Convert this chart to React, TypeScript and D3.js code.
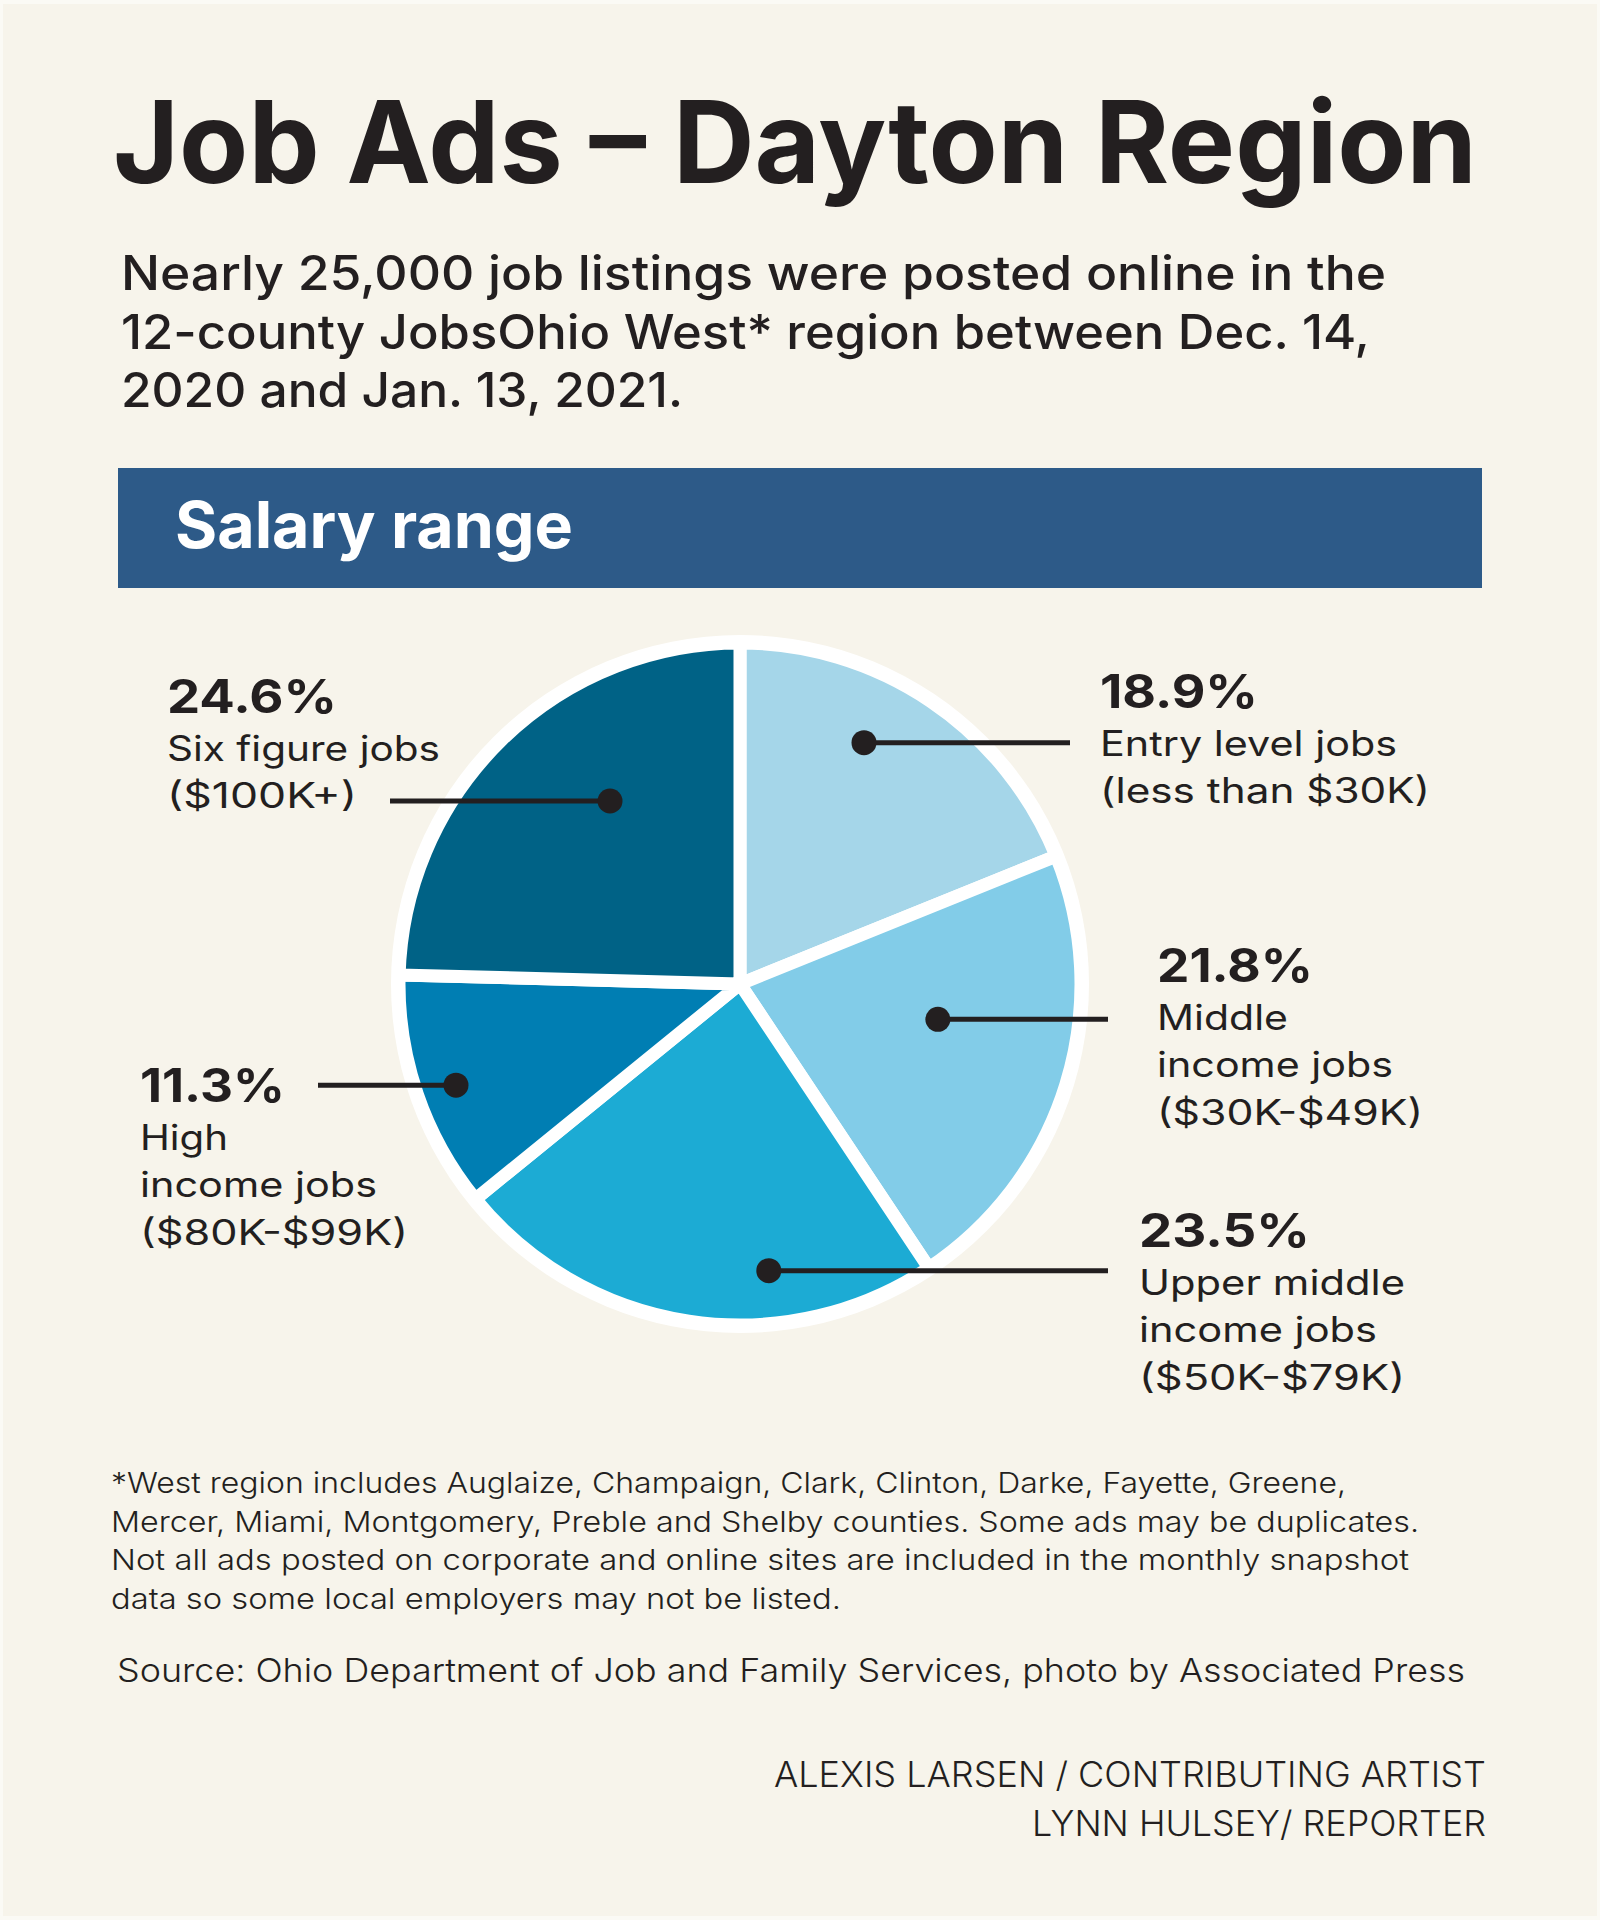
import React from "react";
import * as d3 from "d3";

// ---------- data ----------
const categories = [
  "Entry level jobs",
  "Middle income jobs",
  "Upper middle income jobs",
  "High income jobs",
  "Six figure jobs",
];
const shares = [18.9, 21.8, 23.5, 11.3, 24.6];
const sliceColors = ["#a5d6e9", "#82cce8", "#1cabd4", "#007eb3", "#006286"];
const pctLabels = ["18.9%", "21.8%", "23.5%", "11.3%", "24.6%"];
const descLines = [
  ["Entry level jobs", "(less than $30K)"],
  ["Middle", "income jobs", "($30K-$49K)"],
  ["Upper middle", "income jobs", "($50K-$79K)"],
  ["High", "income jobs", "($80K-$99K)"],
  ["Six figure jobs", "($100K+)"],
];
const titleText = "Job Ads \u2013 Dayton Region";
const subtitleLines = [
  "Nearly 25,000 job listings were posted online in the",
  "12-county JobsOhio West* region between Dec. 14,",
  "2020 and Jan. 13, 2021.",
];
const bannerText = "Salary range";
const footnoteLines = [
  "*West region includes Auglaize, Champaign, Clark, Clinton, Darke, Fayette, Greene,",
  "Mercer, Miami, Montgomery, Preble and Shelby counties. Some ads may be duplicates.",
  "Not all ads posted on corporate and online sites are included in the monthly snapshot",
  "data so some local employers may not be listed.",
];
const sourceText = "Source: Ohio Department of Job and Family Services, photo by Associated Press";
const creditLines = ["ALEXIS LARSEN / CONTRIBUTING ARTIST", "LYNN HULSEY/ REPORTER"];

// ---------- layout ----------
const W = 1600;
const H = 1920;
const FONT = "Inter, 'Noto Sans', sans-serif";
const INK = "#231f20";
const BG = "#f7f4eb";
const cx = 740;
const cy = 984;
const outerR = 341;
const diskR = 349;

// annotation layout per slice: where the dot sits inside the slice, where the leader ends, label block
const dotAngleFrac = [0.4, 0.41, 0.33, 0.48, 0.6];
const dotRadiusFrac = [0.81, 0.6, 0.86, 0.9, 0.67];
const leaderEndX = [1070, 1108, 1108, 318, 390];
const labelX = [1100, 1157, 1139, 140, 167];
const labelY = [708, 982, 1247, 1102, 713];
const pctWidths = [158, 156, 171, 145, 170];
const descWidths = [
  [297, 330],
  [131, 236, 266],
  [266, 238, 266],
  [88, 237, 268],
  [273, 190],
];

export default function App() {
  const pie = d3
    .pie<number>()
    .sort(null)
    .value((d) => d)
    .startAngle(0)
    .endAngle(2 * Math.PI);
  const arcs = pie(shares);
  const arcGen = d3.arc<d3.PieArcDatum<number>>().innerRadius(0).outerRadius(outerR);

  const dots = arcs.map((a, i) => {
    const ang = a.startAngle + dotAngleFrac[i] * (a.endAngle - a.startAngle);
    const r = dotRadiusFrac[i] * (outerR - 6);
    return { x: cx + r * Math.sin(ang), y: cy - r * Math.cos(ang) };
  });

  return (
    <svg
      width={W}
      height={H}
      viewBox={`0 0 ${W} ${H}`}
      style={{ position: "absolute", left: 0, top: 0, display: "block" }}
      fontFamily={FONT}
    >
      <rect x={0} y={0} width={W} height={H} fill="#fbfaf5" />
      <rect x={3} y={4} width={W - 6} height={H - 8} fill={BG} />

      {/* title */}
      <text
        x={113}
        y={183}
        fontSize={114}
        fontWeight={700}
        fill={INK}
        textLength={1364}
        lengthAdjust="spacingAndGlyphs"
      >
        {titleText}
      </text>

      {/* subtitle */}
      {subtitleLines.map((s, i) => (
        <text
          key={i}
          x={121}
          y={290 + i * 58.5}
          fontSize={48}
          fontWeight={500}
          fill={INK}
          textLength={[1265, 1249, 562][i]}
          lengthAdjust="spacingAndGlyphs"
        >
          {s}
        </text>
      ))}

      {/* banner */}
      <rect x={118} y={468} width={1364} height={120} fill="#2d5a88" />
      <text
        x={175}
        y={548}
        fontSize={64}
        fontWeight={700}
        fill="#ffffff"
        textLength={398}
        lengthAdjust="spacingAndGlyphs"
      >
        {bannerText}
      </text>

      {/* pie */}
      <circle cx={cx} cy={cy} r={diskR} fill="#ffffff" />
      <g transform={`translate(${cx},${cy})`}>
        {arcs.map((a, i) => (
          <path
            key={categories[i]}
            d={arcGen(a) || ""}
            fill={sliceColors[i]}
            stroke="#ffffff"
            strokeWidth={13}
            strokeLinejoin="miter"
          />
        ))}
      </g>

      {/* leaders + dots */}
      {dots.map((d, i) => (
        <g key={i}>
          <line
            x1={d.x}
            y1={d.y}
            x2={leaderEndX[i]}
            y2={d.y}
            stroke={INK}
            strokeWidth={5}
          />
          <circle cx={d.x} cy={d.y} r={12.5} fill={INK} />
        </g>
      ))}

      {/* labels */}
      {pctLabels.map((p, i) => (
        <g key={p}>
          <text
            x={labelX[i]}
            y={labelY[i]}
            fontSize={46}
            fontWeight={700}
            fill={INK}
            textLength={pctWidths[i]}
            lengthAdjust="spacingAndGlyphs"
          >
            {p}
          </text>
          {descLines[i].map((l, j) => (
            <text
              key={j}
              x={labelX[i]}
              y={labelY[i] + 47.5 * (j + 1)}
              fontSize={35}
              fontWeight={400}
              fill={INK}
              textLength={descWidths[i][j]}
              lengthAdjust="spacingAndGlyphs"
            >
              {l}
            </text>
          ))}
        </g>
      ))}

      {/* footnote */}
      {footnoteLines.map((l, i) => (
        <text
          key={i}
          x={111}
          y={1493 + i * 38.5}
          fontSize={29}
          fontWeight={300}
          fill={INK}
          textLength={[1235, 1308, 1298, 730][i]}
          lengthAdjust="spacingAndGlyphs"
        >
          {l}
        </text>
      ))}
      <text
        x={117}
        y={1682}
        fontSize={33}
        fontWeight={300}
        fill={INK}
        textLength={1348}
        lengthAdjust="spacingAndGlyphs"
      >
        {sourceText}
      </text>

      {/* credits */}
      {creditLines.map((l, i) => (
        <text
          key={i}
          x={1486}
          y={1787 + i * 49}
          fontSize={35}
          fontWeight={300}
          fill={INK}
          textAnchor="end"
          textLength={[712, 454][i]}
          lengthAdjust="spacingAndGlyphs"
        >
          {l}
        </text>
      ))}
    </svg>
  );
}
